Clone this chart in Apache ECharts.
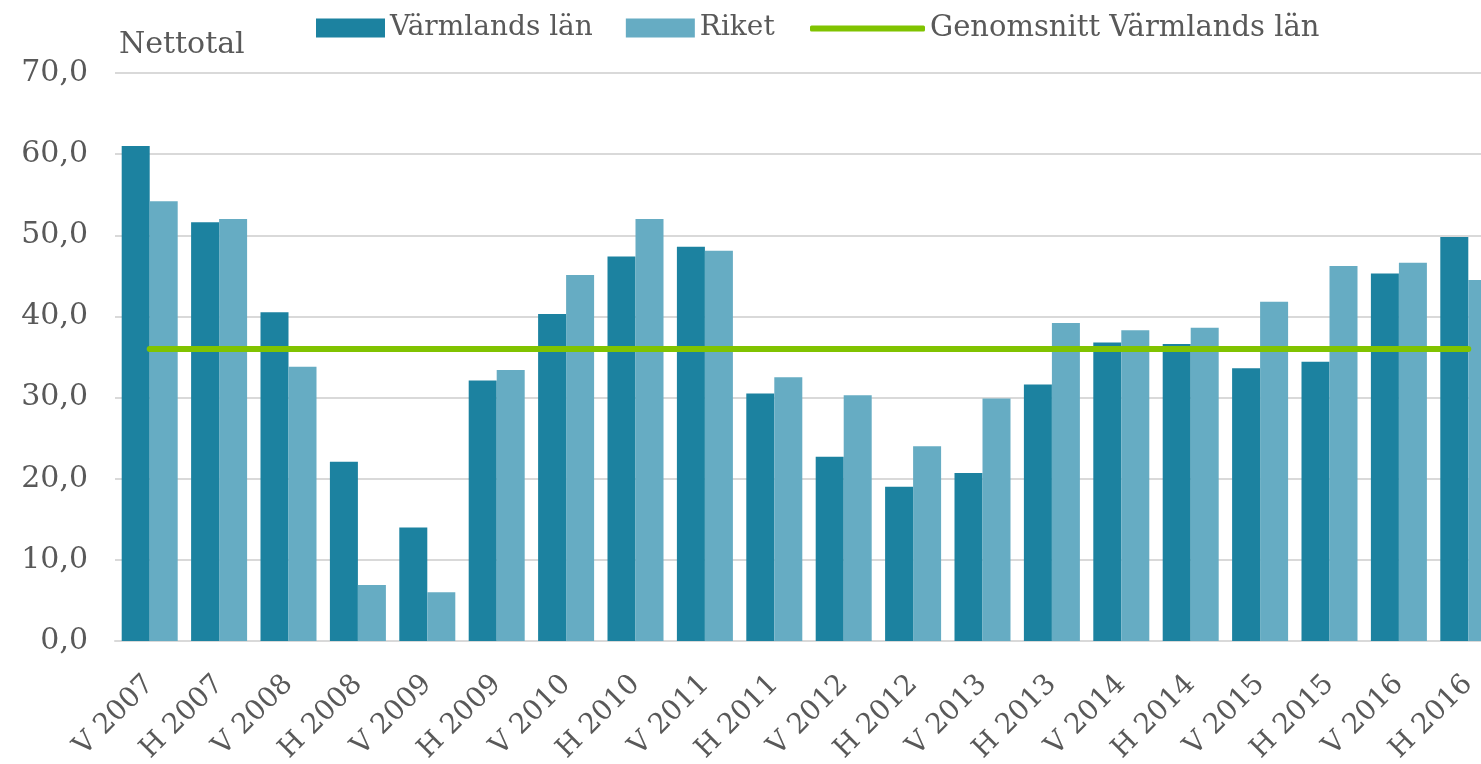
<!DOCTYPE html>
<html>
<head>
<meta charset="utf-8">
<script src="https://cdn.jsdelivr.net/npm/echarts@6/dist/echarts.min.js"></script>
<style>
html,body{margin:0;padding:0;background:#fff;}
#chart{width:1481px;height:764px;}
</style>
</head>
<body>
<div id="chart"></div>
<script>
const categories = ['V 2007','H 2007','V 2008','H 2008','V 2009','H 2009','V 2010','H 2010','V 2011','H 2011',
  'V 2012','H 2012','V 2013','H 2013','V 2014','H 2014','V 2015','H 2015','V 2016','H 2016'];
const varmland = [61.0,51.6,40.5,22.1,14.0,32.1,40.3,47.4,48.6,30.5,22.7,19.0,20.7,31.6,36.8,36.6,33.6,34.4,45.3,49.8];
const riket    = [54.2,52.0,33.8,6.9,6.0,33.4,45.1,52.0,48.1,32.5,30.3,24.0,29.9,39.2,38.3,38.6,41.8,46.2,46.6,44.5];
const genomsnitt = [36.0,36.0,36.0,36.0,36.0,36.0,36.0,36.0,36.0,36.0,36.0,36.0,36.0,36.0,36.0,36.0,36.0,36.0,36.0,36.0];
const seriesNames = ['Värmlands län','Riket','Genomsnitt Värmlands län'];
const yTitle = 'Nettotal';

const font = 'DejaVu Serif';
const txt = '#595959';
const cDark = '#1C82A0', cLight = '#66ACC3', cGreen = '#80C300';

const chart = echarts.init(document.getElementById('chart'));
chart.setOption({
  animation: false,
  backgroundColor: '#fff',
  title: {
    text: yTitle, left: 114, top: 25,
    textStyle: {fontFamily: font, fontSize: 30, fontWeight: 'normal', color: txt}
  },
  legend: [{
    data: [seriesNames[0], seriesNames[1]],
    left: 311, top: 9,
    itemWidth: 69, itemHeight: 19, itemGap: 33,
    icon: 'rect',
    textStyle: {fontFamily: font, fontSize: 28, color: txt}
  },{
    data: [seriesNames[2]],
    left: 805, top: 9,
    itemWidth: 115, itemHeight: 6,
    icon: 'roundRect',
    textStyle: {fontFamily: font, fontSize: 29, color: txt}
  }],
  grid: {left: 115, width: 1388, top: 73, bottom: 123, containLabel: false, outerBoundsMode: 'none'},
  xAxis: {
    type: 'category',
    data: categories,
    axisLine: {lineStyle: {color: '#d9d9d9', width: 2}},
    axisTick: {show: false},
    axisLabel: {
      rotate: 45, interval: 0, margin: 39,
      padding: [28, 0, 0, 0],
      fontFamily: font, fontSize: 28, color: txt
    }
  },
  yAxis: {
    type: 'value', min: 0, max: 70, interval: 10,
    axisLine: {show: false}, axisTick: {show: false},
    splitLine: {lineStyle: {color: '#d9d9d9', width: 2}},
    axisLabel: {
      margin: 27, fontFamily: font, fontSize: 30, color: txt,
      formatter: v => v.toFixed(1).replace('.', ',')
    }
  },
  series: [{
    name: seriesNames[0], type: 'bar', data: varmland,
    barWidth: 28, barGap: '0%',
    itemStyle: {color: cDark}
  },{
    name: seriesNames[1], type: 'bar', data: riket,
    barWidth: 28,
    itemStyle: {color: cLight}
  },{
    name: seriesNames[2], type: 'line', data: genomsnitt,
    symbol: 'none', z: 5,
    lineStyle: {color: cGreen, width: 6, cap: 'round'},
    itemStyle: {color: cGreen}
  }]
});
</script>
</body>
</html>
